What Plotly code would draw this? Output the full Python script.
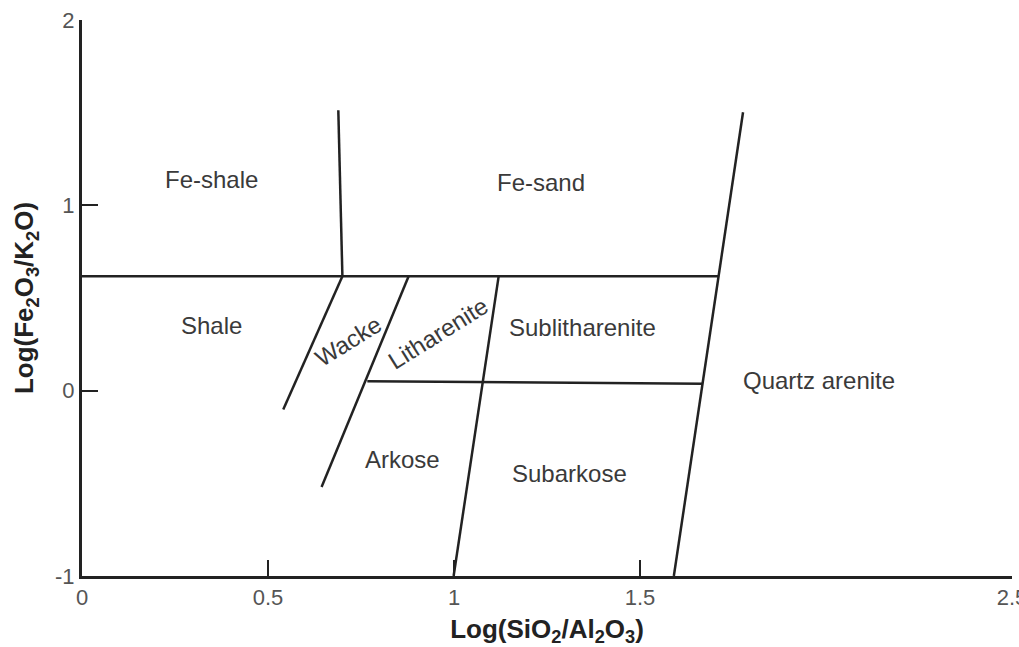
import plotly.graph_objects as go

# Boundary segments of the classification fields (data coordinates)
seg_x = [[0.0, 1.711], [0.689, 0.700], [1.777, 1.591], [0.700, 0.541],
         [0.878, 0.644], [0.767, 1.669], [1.120, 0.999]]
seg_y = [[0.617, 0.617], [1.513, 0.617], [1.502, -1.0], [0.617, -0.101],
         [0.617, -0.520], [0.051, 0.037], [0.617, -1.0]]

# Field labels
label_text = ["Fe-shale", "Fe-sand", "Shale", "Wacke", "Litharenite",
              "Sublitharenite", "Quartz arenite", "Arkose", "Subarkose"]
label_x = [0.347, 1.233, 0.347, 0.714, 0.956, 1.346, 1.982, 0.862, 1.311]
label_y = [1.141, 1.125, 0.353, 0.267, 0.310, 0.342, 0.056, -0.370, -0.446]
label_angle = [0, 0, 0, -32, -32, 0, 0, 0, 0]

x_tickvals = [0, 0.5, 1, 1.5, 2.5]
x_ticktext = ["0", "0.5", "1", "1.5", "2.5"]
y_tickvals = [-1, 0, 1, 2]
y_ticktext = ["-1", "0", "1", "2"]

FONT = "Liberation Sans, Arial, Helvetica, sans-serif"
LINE = "#222222"

fig = go.Figure()
for xs, ys in zip(seg_x, seg_y):
    fig.add_trace(go.Scatter(x=xs, y=ys, mode="lines",
                             line=dict(color=LINE, width=2.5),
                             showlegend=False, hoverinfo="skip"))

for t, x, y, a in zip(label_text, label_x, label_y, label_angle):
    fig.add_annotation(x=x, y=y, text=t, showarrow=False, textangle=a,
                       font=dict(family=FONT, size=24, color="#3a3a3a"),
                       xanchor="center", yanchor="middle")

fig.update_layout(
    width=1019, height=647, autosize=False,
    margin=dict(l=82, r=7, t=20, b=71),
    paper_bgcolor="white", plot_bgcolor="white",
    showlegend=False,
)
fig.update_xaxes(
    range=[0, 2.5], tickvals=x_tickvals, ticktext=x_ticktext,
    showline=True, linecolor=LINE, linewidth=3,
    ticks="inside", ticklen=16, tickwidth=2, tickcolor=LINE,
    showgrid=False, zeroline=False, ticklabeloverflow="allow",
    automargin=False,
    tickfont=dict(family=FONT, size=22, color="#555555"),
    title=dict(text="<b>Log(SiO<sub>2</sub>/Al<sub>2</sub>O<sub>3</sub>)</b>",
               font=dict(family=FONT, size=26, color="#222222"), standoff=15),
)
fig.update_yaxes(
    range=[-1, 2], tickvals=y_tickvals, ticktext=y_ticktext,
    showline=True, linecolor=LINE, linewidth=3,
    ticks="inside", ticklen=16, tickwidth=2, tickcolor=LINE,
    showgrid=False, zeroline=False, automargin=False,
    tickfont=dict(family=FONT, size=22, color="#555555"),
    title=dict(text="<b>Log(Fe<sub>2</sub>O<sub>3</sub>/K<sub>2</sub>O)</b>",
               font=dict(family=FONT, size=26, color="#222222"), standoff=14),
)

fig.write_html("out.html",
               config={"displayModeBar": False},
               post_script="document.body.style.margin='0';document.body.style.overflow='hidden';")
